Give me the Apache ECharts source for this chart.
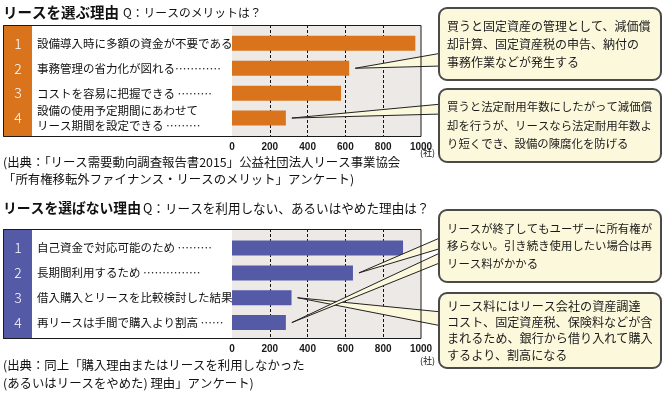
<!DOCTYPE html>
<html><head><meta charset="utf-8">
<script src="https://cdn.jsdelivr.net/npm/echarts@6/dist/echarts.min.js"></script>
<style>html,body{margin:0;padding:0;background:#fff}#c{width:665px;height:393px}</style>
</head><body><div id="c"></div>
<script>
// ---- data ----
const topTitle = 'リースを選ぶ理由';
const topQuestion = 'Q：リースのメリットは？';
const topNumbers = ['1', '2', '3', '4'];
const topCategories = [
  '設備導入時に多額の資金が不要である',
  '事務管理の省力化が図れる…………',
  'コストを容易に把握できる ………',
  '設備の使用予定期間にあわせて\nリース期間を設定できる ………'
];
const topValues = [970, 620, 577, 285];
const topSource = ['(出典：「リース需要動向調査報告書2015」公益社団法人リース事業協会', '「所有権移転外ファイナンス・リースのメリット」アンケート)'];
const topNote1 = ['買うと固定資産の管理として、減価償', '却計算、固定資産税の申告、納付の', '事務作業などが発生する'];
const topNote2 = ['買うと法定耐用年数にしたがって減価償', '却を行うが、リースなら法定耐用年数よ', 'り短くでき、設備の陳腐化を防げる'];

const botTitle = 'リースを選ばない理由';
const botQuestion = 'Q：リースを利用しない、あるいはやめた理由は？';
const botNumbers = ['1', '2', '3', '4'];
const botCategories = [
  '自己資金で対応可能のため ………',
  '長期間利用するため ……………',
  '借入購入とリースを比較検討した結果',
  '再リースは手間で購入より割高 ……'
];
const botValues = [905, 640, 315, 285];
const botSource = ['(出典：同上「購入理由またはリースを利用しなかった', '(あるいはリースをやめた) 理由」アンケート)'];
const botNote1 = ['リースが終了してもユーザーに所有権が', '移らない。引き続き使用したい場合は再', 'リース料がかかる'];
const botNote2 = ['リース料にはリース会社の資産調達', 'コスト、固定資産税、保険料などが含', 'まれるため、銀行から借り入れて購入', 'するより、割高になる'];

const axisMin = 0, axisMax = 1000, axisStep = 200;
const unitLabel = '(社)';

// ---- style ----
const ORANGE = '#D9741C';
const BLUE = '#555AA6';
const GRAYBG = '#ECE9E6';
const CREAM = '#FCF8DC';
const BORDER = '#4a4a4a';
const JP = '"Noto Sans CJK JP", "Noto Sans", sans-serif';

const chart = echarts.init(document.getElementById('c'), null, {renderer: 'canvas'});

function bgX(gridIndex) {
  return {
    type: 'value', gridIndex, min: axisMin, max: axisMax, interval: axisStep,
    axisLine: {show: false}, axisTick: {show: false},
    splitLine: {show: true, showMinLine: false, showMaxLine: false, lineStyle: {color: '#111', type: [3, 2], width: 1}},
    axisLabel: {show: true, margin: 5, color: '#1a1a1a', fontSize: 10, fontWeight: 'bold',
      fontFamily: '"Liberation Sans", Arial, sans-serif', formatter: v => String(v)}
  };
}
function barX(gridIndex) {
  return {type: 'value', gridIndex, min: axisMin, max: axisMax, show: false};
}
function catY(gridIndex, data) {
  return {
    type: 'category', gridIndex, data, inverse: true, position: 'left',
    axisLine: {show: false}, axisTick: {show: false}, splitLine: {show: false},
    axisLabel: {align: 'left', margin: 195, color: '#111', fontSize: 11.5, lineHeight: 15, fontFamily: JP}
  };
}
function numY(gridIndex, data) {
  return {
    type: 'category', gridIndex, data, inverse: true, position: 'left', offset: 0, z: 30,
    axisLine: {show: false}, axisTick: {show: false}, splitLine: {show: false},
    axisLabel: {align: 'center', margin: 214, color: '#fff', fontSize: 14, fontFamily: JP, fontWeight: 300}
  };
}

chart.setOption({
  animation: false,
  grid: [
    {left: 232, width: 189, top: 30.9, height: 99.6},
    {left: 232, width: 189, top: 25, height: 112, show: true, backgroundColor: GRAYBG, borderWidth: 0},
    {left: 232, width: 189, top: 235.6, height: 99.4},
    {left: 232, width: 189, top: 229, height: 110, show: true, backgroundColor: GRAYBG, borderWidth: 0}
  ],
  xAxis: [barX(0), bgX(1), barX(2), bgX(3)],
  yAxis: [
    catY(0, topCategories), numY(0, topNumbers),
    {type: 'value', gridIndex: 1, min: 0, max: 1, show: false},
    catY(2, botCategories), numY(2, botNumbers),
    {type: 'value', gridIndex: 3, min: 0, max: 1, show: false}
  ],
  series: [
    {type: 'bar', xAxisIndex: 0, yAxisIndex: 0, data: topValues, barWidth: 15, itemStyle: {color: ORANGE}, z: 3},
    {type: 'bar', xAxisIndex: 2, yAxisIndex: 3, data: botValues, barWidth: 15, itemStyle: {color: BLUE}, z: 3}
  ]
});

function txt(x, y, text, size, opts) {
  opts = opts || {};
  return {
    type: 'text', x, y, z: 20, silent: true,
    style: Object.assign({
      text, fill: '#111', fontSize: size, fontFamily: JP,
      textAlign: 'left', textVerticalAlign: 'middle'
    }, opts)
  };
}
function noteBox(x, y, w, h, lines, size, lh) {
  return [
    {type: 'rect', z: 12, shape: {x, y, width: w, height: h, r: 8}, style: {fill: CREAM, stroke: BORDER, lineWidth: 2}},
    {type: 'text', z: 13, x: x + 8, y: y + (h - lh * lines.length) / 2,
     style: {text: lines.join('\n'), fill: '#1a1a1a', fontSize: size, fontFamily: JP, lineHeight: lh, textAlign: 'left', textVerticalAlign: 'top'}}
  ];
}
function pointer(tip, bx, y1, y2) {
  return {type: 'polygon', z: 10, shape: {points: [tip, [bx, y1], [bx, y2]]}, style: {fill: CREAM, stroke: '#222', lineWidth: 1}};
}
function tipAt(gridIndex, value, cat) {
  const p = chart.convertToPixel({gridIndex}, [value, cat]);
  return [p[0] + 6, p[1]];
}

const g = [];
// titles
g.push(txt(3, 12, topTitle, 14.5, {fontWeight: 'bold'}));
g.push(txt(123, 12.5, topQuestion, 11.8));
g.push(txt(3, 208, botTitle, 13.8, {fontWeight: 'bold'}));
g.push(txt(143, 208.5, botQuestion, 12.6));
// number columns
g.push({type: 'rect', z: -5, shape: {x: 3, y: 25, width: 29, height: 112}, style: {fill: ORANGE}});
g.push({type: 'rect', z: -5, shape: {x: 3, y: 229, width: 29, height: 110}, style: {fill: BLUE}});
// outer frames
g.push({type: 'rect', z: 15, shape: {x: 3.5, y: 25.5, width: 417.5, height: 111}, style: {fill: 'none', stroke: '#1a1a1a', lineWidth: 1}});
g.push({type: 'rect', z: 15, shape: {x: 3.5, y: 229.5, width: 417.5, height: 109}, style: {fill: 'none', stroke: '#1a1a1a', lineWidth: 1}});
// units
g.push(txt(420, 153, unitLabel, 9));
g.push(txt(420, 361, unitLabel, 9));
// sources
g.push(txt(3, 162, topSource[0], 12.4));
g.push(txt(3, 179.5, topSource[1], 12.4));
g.push(txt(3, 365, botSource[0], 12.4));
g.push(txt(3, 383, botSource[1], 12.4));
// notes
noteBox(439, 8, 222, 72, topNote1, 12, 18).forEach(e => g.push(e));
noteBox(439, 89, 222, 73, topNote2, 11.4, 18.5).forEach(e => g.push(e));
noteBox(439, 210, 222, 72, botNote1, 11.4, 17.5).forEach(e => g.push(e));
noteBox(439, 293, 222, 75, botNote2, 12.1, 16.3).forEach(e => g.push(e));
// pointers
g.push(pointer(tipAt(0, topValues[1], 1), 442, 53, 66));
g.push(pointer(tipAt(0, topValues[3], 3), 442, 104, 114));
g.push(pointer(tipAt(2, botValues[2], 2), 442, 312, 326));
g.push(pointer(tipAt(2, botValues[1], 1), 442, 237, 248));
g.push(pointer(tipAt(2, botValues[3], 3), 442, 252, 262));

chart.setOption({graphic: {elements: g}});
</script>
</body></html>
